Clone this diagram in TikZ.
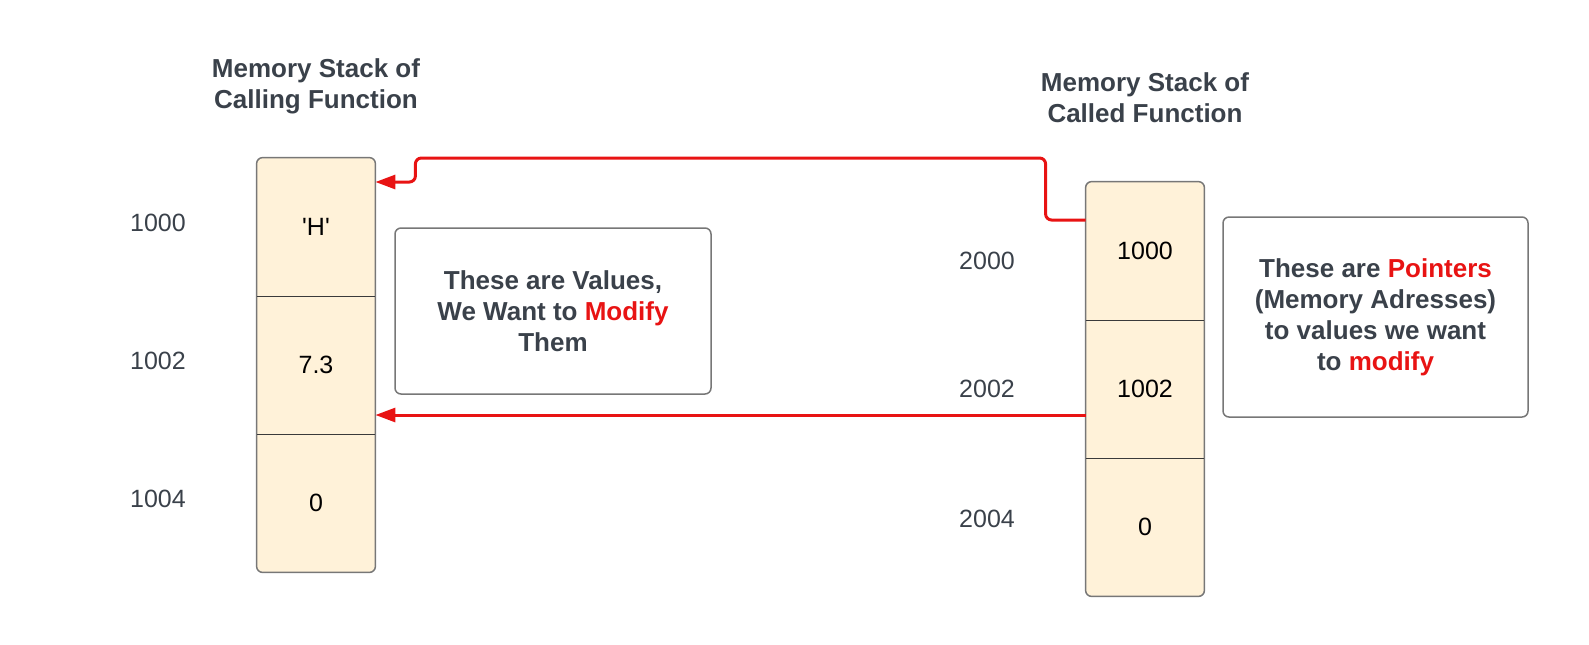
\documentclass[tikz,border=0pt]{standalone}
\usepackage{fontspec}
\setmainfont{Liberation Sans}
\usetikzlibrary{positioning,arrows.meta,backgrounds}
\definecolor{cellfill}{HTML}{FFF2D9}
\definecolor{inktext}{HTML}{3A414A}
\definecolor{ptrred}{HTML}{E81313}
\definecolor{framegray}{HTML}{777777}
\definecolor{divgray}{HTML}{3A3A3A}
\newcommand\diagfont{\fontsize{12.5}{15.5}\selectfont}
\newcommand\boldfont{\fontsize{13}{15.5}\selectfont\bfseries}
\newcommand\hot[1]{\textcolor{ptrred}{#1}}

\begin{document}
\begin{tikzpicture}[x=0.5pt,y=-0.5pt,node distance=69pt,on grid,
    cell/.style={rectangle,minimum width=59pt,minimum height=69pt,inner sep=0pt,font=\diagfont},
    addr/.style={text=inktext,font=\diagfont},
    stacktitle/.style={text=inktext,font=\boldfont,align=center},
    note/.style={draw=framegray,rounded corners=3pt,line width=0.75pt,text=inktext,
      font=\boldfont,align=center,inner sep=0pt},
    frame/.style={draw=framegray,fill=cellfill,line width=0.75pt,rounded corners=3pt},
    divider/.style={draw=divgray,line width=0.6pt},
    ptr/.style={draw=ptrred,line width=1.5pt,rounded corners=3pt,
      -{Triangle[length=10pt,width=7pt]}}]
    % calling function
    \node[stacktitle] (t_call) at (316,86) {Memory Stack of\\Calling Function};
    \node[cell] (l_0) at (316,227) {\textquotesingle H\textquotesingle};
    \node[cell] (l_1) [below=of l_0] {7.3};
    \node[cell] (l_2) [below=of l_1] {0};
    \node[addr] (a_0) [left=79pt of l_0,yshift=2pt] {1000};
    \node[addr] (a_1) [left=79pt of l_1,yshift=2pt] {1002};
    \node[addr] (a_2) [left=79pt of l_2,yshift=2pt] {1004};
    % called function
    \node[stacktitle] (t_called) at (1145,98) {Memory Stack of\\Called Function};
    \node[cell] (r_0) at (1145,251) {1000};
    \node[cell] (r_1) [below=of r_0] {1002};
    \node[cell] (r_2) [below=of r_1] {0};
    \node[addr] (b_0) [left=79pt of r_0,yshift=-5pt] {2000};
    \node[addr] (b_1) [left=79pt of r_1] {2002};
    \node[addr] (b_2) [left=79pt of r_2,yshift=4pt] {2004};
    \begin{scope}[on background layer]
      \draw[frame] (l_0.north west) rectangle (l_2.south east);
      \draw[frame] (r_0.north west) rectangle (r_2.south east);
    \end{scope}
    \draw[divider] (l_0.south west) -- (l_0.south east);
    \draw[divider] (l_1.south west) -- (l_1.south east);
    \draw[divider] (r_0.south west) -- (r_0.south east);
    \draw[divider] (r_1.south west) -- (r_1.south east);
    % notes
    \node[note,minimum width=158pt,minimum height=83pt] (n_val) at (553,311)
      {These are Values,\\We Want to \hot{Modify}\\Them};
    \node[note,minimum width=152.5pt,minimum height=100pt] (n_ptr) at (1375.5,317)
      {These are \hot{Pointers}\\(Memory Adresses)\\to values we want\\to \hot{modify}};
    % pointers
    \draw[ptr] ([yshift=15.5pt]r_0.west) -- ++(-40,0) -- ++(0,-62)
      -| ([xshift=20pt,yshift=22.5pt]l_0.east) -- ([yshift=22.5pt]l_0.east);
    \draw[ptr] ([yshift=-13pt]r_1.west) -- ([yshift=-13pt]r_1.west -| l_1.east);
    \pgfresetboundingbox
    \path[use as bounding box] (0,0) rectangle (1589,644);
\end{tikzpicture}
\end{document}
